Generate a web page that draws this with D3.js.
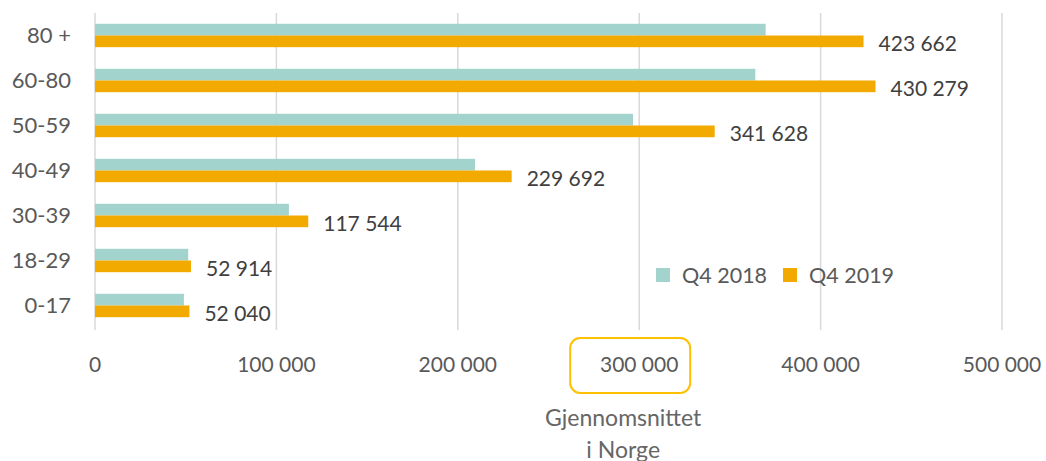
<!DOCTYPE html>
<html>
<head>
<meta charset="utf-8">
<script src="https://cdn.jsdelivr.net/npm/d3@7"></script>
<style>
  body { margin: 0; background: #fff; }
  text { font-family: Lato, "Open Sans", sans-serif; }
</style>
</head>
<body>
<div id="chart"></div>
<script>
// chart data
const categories = ['80 +', '60-80', '50-59', '40-49', '30-39', '18-29', '0-17'];
const seriesNames = ['Q4 2018', 'Q4 2019'];
const q42018 = [369700, 364000, 296600, 209500, 106900, 51400, 49000];
const q42019 = [423662, 430279, 341628, 229692, 117544, 52914, 52040];
const xTicks = [0, 100000, 200000, 300000, 400000, 500000];
const highlightTick = 300000;
const noteLines = ['Gjennomsnittet', 'i Norge'];

const colors = ['#a2d3cc', '#f2a900'];

// svg dimensions
let svgWidth = 1046,
    svgHeight = 461;

let margin = { top: 13, right: 44, bottom: 133, left: 95 };
let chartWidth = svgWidth - margin.left - margin.right;
let chartHeight = svgHeight - margin.top - margin.bottom;

let svg = d3.select('#chart')
    .append('svg')
    .attr('width', svgWidth)
    .attr('height', svgHeight);

let chartGroup = svg.append('g')
    .attr('transform', `translate(${margin.left}, ${margin.top})`);

// scales
let xScale = d3.scaleLinear()
    .domain([0, 500000])
    .range([0, chartWidth]);

let yScale = d3.scaleBand()
    .domain(categories)
    .range([0, chartHeight])
    .paddingInner(0.48)
    .paddingOuter(0.24);

let subScale = d3.scaleBand()
    .domain(seriesNames)
    .range([0, yScale.bandwidth()]);

const fmt = v => d3.format(',')(v).replace(/,/g, ' ');

// gridlines
chartGroup.append('g')
    .selectAll('line')
    .data(xTicks)
    .join('line')
    .attr('x1', d => xScale(d))
    .attr('x2', d => xScale(d))
    .attr('y1', 0)
    .attr('y2', chartHeight + 2)
    .attr('stroke', '#d9d9d9')
    .attr('stroke-width', 1.5);

// bars
let rows = categories.map((c, i) => ({ cat: c, vals: [q42018[i], q42019[i]] }));

let groups = chartGroup.selectAll('.grp')
    .data(rows)
    .join('g')
    .attr('class', 'grp')
    .attr('transform', d => `translate(0, ${yScale(d.cat)})`);

groups.selectAll('rect')
    .data(d => d.vals.map((v, j) => ({ key: seriesNames[j], v: v, j: j })))
    .join('rect')
    .attr('x', xScale(0))
    .attr('y', d => subScale(d.key))
    .attr('width', d => xScale(d.v) - xScale(0))
    .attr('height', subScale.bandwidth())
    .attr('fill', d => colors[d.j]);

// value labels for Q4 2019
groups.append('text')
    .attr('x', d => xScale(d.vals[1]) + 15)
    .attr('y', subScale('Q4 2019') + subScale.bandwidth() / 2 + 2)
    .attr('dy', '0.35em')
    .attr('font-size', 21)
    .attr('fill', '#404040')
    .text(d => fmt(d.vals[1]));

// category labels
chartGroup.append('g')
    .selectAll('text')
    .data(categories)
    .join('text')
    .attr('x', -24)
    .attr('y', d => yScale(d) + yScale.bandwidth() / 2)
    .attr('dy', '0.35em')
    .attr('text-anchor', 'end')
    .attr('font-size', 22)
    .attr('fill', '#595959')
    .text(d => d);

// x tick labels
chartGroup.append('g')
    .selectAll('text')
    .data(xTicks)
    .join('text')
    .attr('x', d => xScale(d))
    .attr('y', chartHeight + 37)
    .attr('dy', '0.35em')
    .attr('text-anchor', 'middle')
    .attr('font-size', 21)
    .attr('fill', '#595959')
    .text(d => fmt(d));

// highlight box around 300 000
chartGroup.append('rect')
    .attr('x', xScale(highlightTick) - 69)
    .attr('y', chartHeight + 10)
    .attr('width', 120)
    .attr('height', 55)
    .attr('rx', 10)
    .attr('fill', 'none')
    .attr('stroke', '#ffc000')
    .attr('stroke-width', 2);

chartGroup.append('g')
    .selectAll('text')
    .data(noteLines)
    .join('text')
    .attr('x', xScale(highlightTick) - 16)
    .attr('y', (d, i) => chartHeight + 90 + i * 32)
    .attr('dy', '0.35em')
    .attr('text-anchor', 'middle')
    .attr('font-size', 23)
    .attr('fill', '#666666')
    .text(d => d);

// legend
let legend = svg.append('g')
    .attr('transform', 'translate(656, 275)');

let legendItems = legend.selectAll('g')
    .data(seriesNames)
    .join('g')
    .attr('transform', (d, i) => `translate(${i * 127}, 0)`);

legendItems.append('rect')
    .attr('x', 0)
    .attr('y', -7)
    .attr('width', 14)
    .attr('height', 14)
    .attr('fill', (d, i) => colors[i]);

legendItems.append('text')
    .attr('x', 26)
    .attr('y', 0)
    .attr('dy', '0.35em')
    .attr('font-size', 21.5)
    .attr('fill', '#595959')
    .text(d => d);
</script>
</body>
</html>
